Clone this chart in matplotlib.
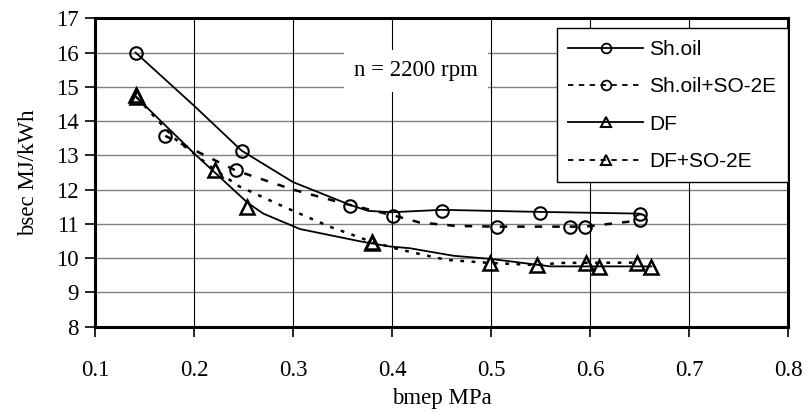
import matplotlib
matplotlib.use('Agg')
import matplotlib.pyplot as plt
from matplotlib.lines import Line2D

# measured points (markers)
sh_x = [0.141, 0.248, 0.358, 0.450, 0.549, 0.650]
sh_y = [16.0, 13.14, 11.53, 11.39, 11.33, 11.29]
sh_so_x = [0.171, 0.242, 0.401, 0.506, 0.580, 0.595, 0.650]
sh_so_y = [13.57, 12.56, 11.22, 10.92, 10.92, 10.92, 11.10]
df_x = [0.141, 0.254, 0.380, 0.546, 0.609, 0.662]
df_y = [14.75, 11.49, 10.47, 9.79, 9.73, 9.73]
df_so_x = [0.142, 0.221, 0.380, 0.499, 0.596, 0.647]
df_so_y = [14.70, 12.58, 10.45, 9.86, 9.87, 9.87]

# curve paths as drawn in the original
sh_line_x = [0.141, 0.200, 0.248, 0.300, 0.358, 0.376, 0.400, 0.450, 0.549, 0.650]
sh_line_y = [16.0, 14.45, 13.14, 12.22, 11.55, 11.38, 11.34, 11.41, 11.35, 11.30]
sh_so_line_x = [0.171, 0.242, 0.300, 0.351, 0.401, 0.428, 0.465, 0.506, 0.595, 0.650]
sh_so_line_y = [13.57, 12.56, 12.00, 11.60, 11.25, 11.04, 10.94, 10.92, 10.92, 11.10]
df_line_x = [0.141, 0.200, 0.254, 0.270, 0.307, 0.368, 0.398, 0.418, 0.462, 0.499, 0.546, 0.560, 0.662]
df_line_y = [14.72, 13.06, 11.62, 11.30, 10.85, 10.49, 10.34, 10.29, 10.07, 9.98, 9.81, 9.76, 9.76]
df_so_line_x = [0.142, 0.180, 0.221, 0.246, 0.290, 0.337, 0.363, 0.380, 0.408, 0.455, 0.499, 0.546, 0.570, 0.647]
df_so_line_y = [14.70, 13.50, 12.58, 12.09, 11.51, 10.92, 10.65, 10.47, 10.25, 9.95, 9.86, 9.80, 9.86, 9.87]

x_ticks = [0.1, 0.2, 0.3, 0.4, 0.5, 0.6, 0.7, 0.8]
y_ticks = list(range(8, 18))

serif = 'Liberation Serif'
sans = 'Liberation Sans'
fs = 16.5

fig = plt.figure(figsize=(8.07, 4.15), dpi=100)
ax = fig.add_axes([0.1177, 0.2128, 0.8588, 0.7431])

for yv in y_ticks:
    ax.axhline(yv, color='#808080', lw=1.0, zorder=0)
for xv in x_ticks:
    ax.axvline(xv, color='black', lw=0.8, zorder=0)

ax.plot(sh_line_x, sh_line_y, color='black', lw=1.3, zorder=2)
ax.plot(sh_so_line_x, sh_so_line_y, color='black', lw=1.8, ls=(0, (3, 4)), zorder=2)
ax.plot(df_line_x, df_line_y, color='black', lw=1.3, zorder=2)
ax.plot(df_so_line_x, df_so_line_y, color='black', lw=1.8, ls=(0, (1.5, 3)), zorder=2)

ax.plot(sh_x, sh_y, ls='none', marker='o', ms=9, mfc='none', mec='black', mew=1.5, zorder=3)
ax.plot(sh_so_x, sh_so_y, ls='none', marker='o', ms=9, mfc='none', mec='black', mew=1.5, zorder=3)
ax.plot(df_x, df_y, ls='none', marker='^', ms=10, mfc='none', mec='black', mew=1.8, zorder=3)
ax.plot(df_so_x, df_so_y, ls='none', marker='^', ms=10, mfc='none', mec='black', mew=1.8, zorder=3)

ax.set_xlim(0.1, 0.8)
ax.set_ylim(8, 17)
ax.set_xticks(x_ticks)
ax.set_yticks(y_ticks)
ax.set_xticklabels([str(v) for v in x_ticks], fontfamily=serif, fontsize=fs)
ax.set_yticklabels([str(v) for v in y_ticks], fontfamily=serif, fontsize=fs)
ax.tick_params(direction='out', length=7, width=1.2)
ax.tick_params(axis='x', pad=17)
ax.tick_params(axis='y', pad=5)
for s in ax.spines.values():
    s.set_linewidth(2.2)
    s.set_color('black')

ax.set_xlabel('bmep MPa', fontfamily=serif, fontsize=fs, labelpad=5)
ax.set_ylabel('bsec MJ/kWh', fontfamily=serif, fontsize=fs, labelpad=12)

ax.text(0.424, 15.47, 'n = 2200 rpm', fontfamily=serif, fontsize=fs, ha='center', va='center',
        bbox=dict(facecolor='white', edgecolor='none', boxstyle='square,pad=0.45'), zorder=4)

handles = [
    Line2D([0], [0], color='black', lw=1.3, marker='o', ms=7, mfc='none', mec='black', mew=1.3),
    Line2D([0], [0], color='black', lw=1.3, ls=(0, (3, 3)), marker='o', ms=7, mfc='none', mec='black', mew=1.3),
    Line2D([0], [0], color='black', lw=1.3, marker='^', ms=7, mfc='none', mec='black', mew=1.5),
    Line2D([0], [0], color='black', lw=1.3, ls=(0, (3, 3)), marker='^', ms=7, mfc='none', mec='black', mew=1.5),
]
labels = ['Sh.oil', 'Sh.oil+SO-2E', 'DF', 'DF+SO-2E']
leg = ax.legend(handles, labels, loc='upper right', bbox_to_anchor=(1.0, 0.967),
                prop={'family': sans, 'size': 15}, frameon=True, fancybox=False,
                edgecolor='black', framealpha=1, handlelength=3.6, handletextpad=0.3,
                labelspacing=0.88, borderpad=0.55, borderaxespad=0.0)
leg.get_frame().set_linewidth(1.0)
leg.set_zorder(5)

fig.savefig('out.png', dpi=100)
